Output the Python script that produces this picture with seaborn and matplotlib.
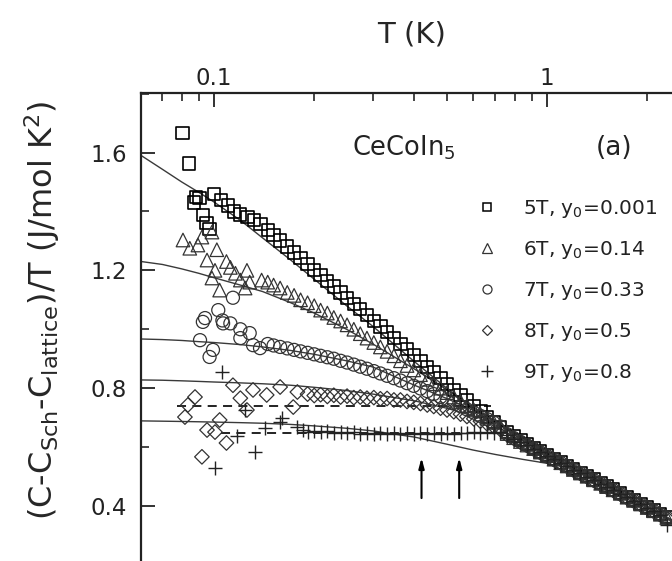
import numpy as np
import pandas as pd
import matplotlib
matplotlib.use("Agg")
import matplotlib.pyplot as plt
from matplotlib.ticker import LogLocator, FuncFormatter, MultipleLocator, NullFormatter, FormatStrFormatter
from matplotlib.lines import Line2D
import seaborn as sns

# ---------------- data ----------------
T_grid = [0.100, 0.105, 0.110, 0.115, 0.120, 0.126, 0.132, 0.138, 0.145, 0.151,
          0.158, 0.166, 0.174, 0.182, 0.191, 0.200, 0.209, 0.219, 0.229, 0.240,
          0.251, 0.263, 0.275, 0.288, 0.302, 0.316, 0.331, 0.347, 0.363, 0.380,
          0.398, 0.417, 0.437, 0.457, 0.479, 0.501, 0.525, 0.550, 0.575, 0.603,
          0.631, 0.661, 0.692, 0.724, 0.759, 0.794, 0.832, 0.871, 0.912, 0.955,
          1.00, 1.05, 1.10, 1.15, 1.20, 1.26, 1.32, 1.38, 1.45, 1.51,
          1.58, 1.66, 1.74, 1.82, 1.91, 2.00, 2.09, 2.19, 2.29]

# 5 T  (squares)
T5_low = [0.0805, 0.0843, 0.0870, 0.0885, 0.0905, 0.0926, 0.0950, 0.0970]
v5_low = [1.665, 1.563, 1.430, 1.450, 1.445, 1.388, 1.360, 1.340]
v5_main = [1.46, 1.44, 1.42, 1.40, 1.39, 1.38, 1.37, 1.358, 1.338, 1.320,
           1.301, 1.281, 1.261, 1.242, 1.222, 1.202, 1.184, 1.164, 1.145, 1.125,
           1.106, 1.087, 1.068, 1.049, 1.029, 1.009, 0.990, 0.970, 0.951, 0.932,
           0.912, 0.893, 0.873, 0.854, 0.834, 0.815, 0.795, 0.777, 0.758, 0.740,
           0.722, 0.703, 0.686, 0.668, 0.652, 0.637, 0.623, 0.610, 0.597, 0.585,
           0.572, 0.560, 0.548, 0.536, 0.525, 0.513, 0.501, 0.490, 0.478, 0.467,
           0.456, 0.443, 0.431, 0.420, 0.408, 0.396, 0.385, 0.374, 0.362]

# 6 T  (triangles)
T6_low = [0.0807, 0.0846, 0.0895, 0.0920, 0.0986, 0.0953, 0.1020, 0.1007, 0.0986,
          0.1040, 0.1090, 0.1120, 0.1160, 0.1200, 0.1256, 0.1280, 0.1240, 0.1390]
v6_low = [1.303, 1.275, 1.286, 1.313, 1.330, 1.235, 1.270, 1.200, 1.174,
          1.133, 1.230, 1.210, 1.190, 1.167, 1.200, 1.160, 1.140, 1.167]
v6_main = [1.16, 1.15, 1.14, 1.125, 1.115, 1.10, 1.09,
           1.08, 1.065, 1.055, 1.04, 1.028, 1.015, 1.0, 0.985, 0.97,
           0.955, 0.94, 0.925, 0.91, 0.893, 0.877, 0.862,
           0.846, 0.83, 0.815, 0.80, 0.785, 0.77, 0.755, 0.741,
           0.726, 0.712, 0.698, 0.684, 0.670,
           0.646, 0.632, 0.619, 0.607, 0.595, 0.583, 0.571, 0.559, 0.547, 0.536,
           0.524, 0.512, 0.501, 0.489, 0.477, 0.466, 0.455, 0.443, 0.430, 0.419,
           0.407, 0.395, 0.384, 0.372, 0.361]

# 7 T  (circles)
T7_low = [0.0908, 0.0926, 0.0940, 0.0993, 0.0970, 0.1030, 0.1060, 0.1065, 0.1120,
          0.1140, 0.1200, 0.1200, 0.1280, 0.1310, 0.1375]
v7_low = [0.963, 1.025, 1.038, 0.930, 0.906, 1.065, 1.030, 1.020, 1.020,
          1.107, 1.000, 0.970, 0.987, 0.946, 0.936]
v7_main = [0.95, 0.945, 0.94, 0.935, 0.93, 0.925, 0.92,
           0.915, 0.91, 0.905, 0.90, 0.893, 0.887, 0.88, 0.873, 0.866,
           0.858, 0.85, 0.842, 0.834, 0.826, 0.817, 0.808,
           0.799, 0.79, 0.78, 0.77, 0.76, 0.75, 0.739, 0.728,
           0.717, 0.706, 0.695, 0.683, 0.670,
           0.644, 0.631, 0.618, 0.606, 0.594, 0.582, 0.570, 0.558, 0.546, 0.535,
           0.523, 0.511, 0.500, 0.488, 0.476, 0.465, 0.454, 0.441, 0.429, 0.418,
           0.406, 0.394, 0.383, 0.371, 0.360]

# 8 T  (diamonds)
T8_low = [0.0818, 0.0835, 0.0877, 0.0920, 0.0953, 0.1007, 0.1040, 0.1090, 0.1140,
          0.1200, 0.1256, 0.1310, 0.1440, 0.1580, 0.1730, 0.1780]
v8_low = [0.702, 0.743, 0.770, 0.567, 0.658, 0.651, 0.692, 0.614, 0.810,
          0.766, 0.726, 0.794, 0.777, 0.804, 0.736, 0.787]
v8_main = [0.78,
           0.775, 0.778, 0.772, 0.776, 0.77, 0.773, 0.768, 0.77, 0.766,
           0.768, 0.764, 0.765, 0.76, 0.76, 0.755, 0.752,
           0.748, 0.743, 0.738, 0.732, 0.726, 0.72, 0.712, 0.704,
           0.696, 0.688, 0.679, 0.67, 0.660,
           0.642, 0.630, 0.617, 0.605, 0.593, 0.581, 0.569, 0.557, 0.545, 0.534,
           0.522, 0.510, 0.499, 0.487, 0.475, 0.464, 0.453, 0.440, 0.428, 0.417,
           0.405, 0.393, 0.382, 0.370, 0.359]

# 9 T  (plus)
T9_low = [0.1007, 0.1060, 0.1170, 0.1240, 0.1330, 0.1420, 0.1580, 0.1600, 0.1780, 0.1850]
v9_low = [0.529, 0.855, 0.637, 0.726, 0.584, 0.665, 0.685, 0.700, 0.668, 0.658]
v9_main = [0.652,
           0.655, 0.65, 0.653, 0.648, 0.651, 0.647, 0.650, 0.646, 0.649,
           0.645, 0.648, 0.646, 0.649, 0.645, 0.647, 0.644,
           0.648, 0.645, 0.647, 0.644, 0.648, 0.646, 0.649, 0.647,
           0.65, 0.648, 0.651, 0.649, 0.650,
           0.641, 0.629, 0.617, 0.606, 0.594, 0.582, 0.571, 0.559, 0.547, 0.535,
           0.523, 0.511, 0.499, 0.488, 0.476, 0.465, 0.453, 0.441, 0.429, 0.418,
           0.406, 0.394, 0.383, 0.370, 0.335]

# fit curves (solid) and constant fits (dashed)
fit_T = [0.0604, 0.07, 0.08, 0.09, 0.1, 0.12, 0.14, 0.17, 0.2, 0.25, 0.3,
         0.4, 0.5, 0.6, 0.7, 0.85, 1.0, 1.3, 1.7, 2.3, 2.9]
fit5 = [1.59, 1.543, 1.50, 1.465, 1.432, 1.37, 1.31, 1.235, 1.17, 1.08, 1.01,
        0.89, 0.80, 0.73, 0.675, 0.612, 0.567, 0.502, 0.437, 0.36, 0.30]
fit6 = [1.23, 1.22, 1.205, 1.19, 1.175, 1.15, 1.128, 1.09, 1.055, 1.0, 0.95,
        0.865, 0.795, 0.735, 0.685, 0.622, 0.572, 0.505, 0.438, 0.36, 0.30]
fit7 = [0.967, 0.965, 0.962, 0.958, 0.955, 0.948, 0.94, 0.928, 0.915, 0.893, 0.872,
        0.81, 0.765, 0.725, 0.69, 0.63, 0.578, 0.508, 0.44, 0.36, 0.30]
fit8 = [0.828, 0.827, 0.825, 0.823, 0.821, 0.818, 0.815, 0.81, 0.803, 0.792, 0.78,
        0.757, 0.732, 0.706, 0.68, 0.635, 0.59, 0.515, 0.44, 0.36, 0.30]
fit9 = [0.689, 0.688, 0.687, 0.686, 0.685, 0.683, 0.681, 0.677, 0.672, 0.664, 0.655,
        0.634, 0.61, 0.59, 0.575, 0.558, 0.545, 0.49, 0.43, 0.355, 0.30]
dash8_T = [0.0774, 0.68]
dash8_v = [0.74, 0.74]
dash9_T = [0.105, 0.70]
dash9_v = [0.648, 0.648]

arrow_T = [0.42, 0.545]
arrow_v = [0.427, 0.564]

labels = ["5T, y$_\\mathregular{0}$=0.001", "6T, y$_\\mathregular{0}$=0.14",
          "7T, y$_\\mathregular{0}$=0.33", "8T, y$_\\mathregular{0}$=0.5",
          "9T, y$_\\mathregular{0}$=0.8"]

x_ticks = [0.1, 1]
x_ticklabels = ["0.1", "1"]
y_ticks = [0.4, 0.8, 1.2, 1.6]

# ---------------- figure ----------------
sns.set_style("ticks")
plt.rcParams["font.family"] = ["DejaVu Sans"]
plt.rcParams["mathtext.fontset"] = "dejavusans"

W, H = 672, 561
fig = plt.figure(figsize=(W / 100, H / 100), dpi=100)
# axes extends beyond the right and bottom of the image (cropped figure)
L, R, Tp, B = 141, 700, 93, 580
ax = fig.add_axes([L / W, 1 - B / H, (R - L) / W, (B - Tp) / H])
ax.set_xscale("log")
ax.set_xlim(0.06037, 2.881)
ax.set_ylim(0.1489, 1.802)

line_kw = dict(color="#3a3a3a", linewidth=1.0, ax=ax, legend=False)
for fv in [fit5, fit6, fit7, fit8, fit9]:
    sns.lineplot(x=fit_T, y=fv, **line_kw)
sns.lineplot(x=dash8_T, y=dash8_v, color="#111111", linewidth=1.3, linestyle=(0, (5, 3.5)), ax=ax)
sns.lineplot(x=dash9_T, y=dash9_v, color="#111111", linewidth=1.3, linestyle=(0, (5, 3.5)), ax=ax)

mk = dict(facecolor="none", edgecolor="black", ax=ax, legend=False, zorder=3)
sns.scatterplot(x=T5_low + T_grid, y=v5_low + v5_main, marker="s", s=78, linewidth=1.2, **mk)
sns.scatterplot(x=T6_low + T_grid[8:], y=v6_low + v6_main, marker="^", s=95, linewidth=0.9,
                facecolor="none", edgecolor="#333333", ax=ax, legend=False, zorder=3)
sns.scatterplot(x=T7_low + T_grid[8:], y=v7_low + v7_main, marker="o", s=88, linewidth=0.9,
                facecolor="none", edgecolor="#333333", ax=ax, legend=False, zorder=3)
sns.scatterplot(x=T8_low + T_grid[14:], y=v8_low + v8_main, marker="D", s=55, linewidth=0.9,
                facecolor="none", edgecolor="#333333", ax=ax, legend=False, zorder=3)
sns.scatterplot(x=T9_low + T_grid[14:], y=v9_low + v9_main, marker="+", s=110, linewidth=1.0,
                color="#222222", ax=ax, legend=False, zorder=3)

for t in arrow_T:
    ax.annotate("", xy=(t, arrow_v[1]), xytext=(t, arrow_v[0]),
                arrowprops=dict(arrowstyle="-|>,head_length=0.6,head_width=0.16",
                                color="black", lw=1.5, shrinkA=0, shrinkB=0))

# axes styling
for s in ["left", "top"]:
    ax.spines[s].set_linewidth(1.6)
    ax.spines[s].set_color("#222222")
ax.xaxis.tick_top()
ax.xaxis.set_label_position("top")
ax.xaxis.set_major_locator(LogLocator(base=10, numticks=10))
ax.xaxis.set_minor_locator(LogLocator(base=10, subs=np.arange(2, 10), numticks=10))
ax.xaxis.set_major_formatter(FuncFormatter(lambda v, p: "%g" % v))
ax.xaxis.set_minor_formatter(NullFormatter())
ax.yaxis.set_major_locator(MultipleLocator(0.4))
ax.yaxis.set_minor_locator(MultipleLocator(0.2))
ax.yaxis.set_major_formatter(FormatStrFormatter("%.1f"))
ax.tick_params(axis="both", which="major", direction="in", length=10, width=1.3,
               labelsize=16.5, colors="#222222")
ax.tick_params(axis="both", which="minor", direction="in", length=5.5, width=1.2)
ax.tick_params(axis="x", which="both", top=True, bottom=False, labeltop=True, labelbottom=False, pad=2)
ax.tick_params(axis="y", which="both", left=True, right=False, pad=10)

ax.set_xlabel("T (K)", fontsize=21)
ax.xaxis.set_label_coords(412 / W, 1 - 34 / H, transform=fig.transFigure)
ax.xaxis.label.set_va("center")
ax.set_ylabel("(C-C$_\\mathregular{Sch}$-C$_\\mathregular{lattice}$)/T (J/mol K$^\\mathregular{2}$)", fontsize=23)
ax.yaxis.set_label_coords(42 / W, 1 - 310 / H, transform=fig.transFigure)
ax.yaxis.label.set_va("center")

fig.text(404 / W, 1 - 148 / H, "CeCoIn$_\\mathregular{5}$", fontsize=18.5, ha="center", va="center", color="#222222")
fig.text(614 / W, 1 - 148 / H, "(a)", fontsize=19, ha="center", va="center", color="#222222")

handles = [
    Line2D([], [], marker="s", ls="none", mfc="none", mec="black", ms=6, mew=1.1),
    Line2D([], [], marker="^", ls="none", mfc="none", mec="#333333", ms=6.5, mew=0.9),
    Line2D([], [], marker="o", ls="none", mfc="none", mec="#333333", ms=6.5, mew=0.9),
    Line2D([], [], marker="D", ls="none", mfc="none", mec="#333333", ms=5.5, mew=0.9),
    Line2D([], [], marker="+", ls="none", color="#222222", ms=9, mew=1.0),
]
leg = ax.legend(handles, labels, loc="upper left", bbox_to_anchor=(477 / W, 1 - 198 / H),
                bbox_transform=fig.transFigure, frameon=False, fontsize=14.5,
                handlelength=1.0, handletextpad=1.3, labelspacing=0.94, borderpad=0,
                borderaxespad=0)
for t in leg.get_texts():
    t.set_color("#222222")

fig.savefig("out.png", dpi=100)
